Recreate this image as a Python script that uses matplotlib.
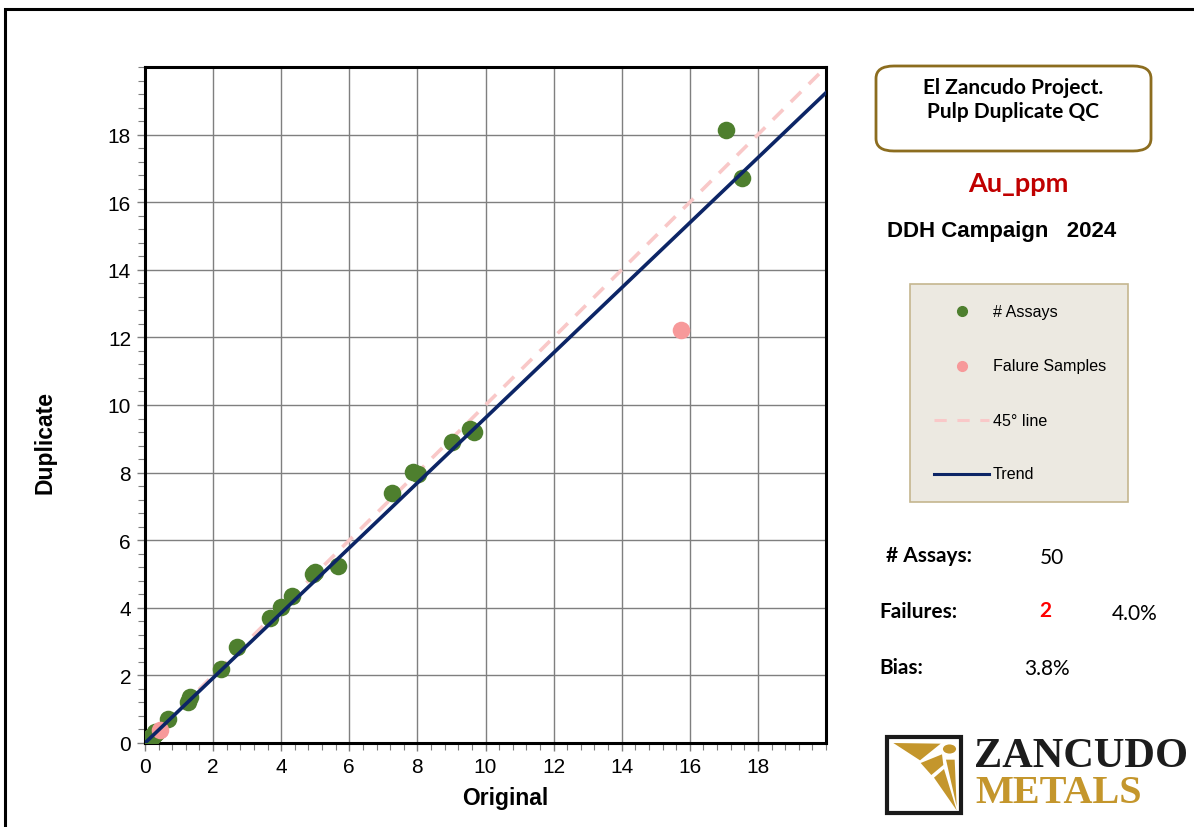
import numpy as np
import matplotlib
matplotlib.use("Agg")
import matplotlib.pyplot as plt
from matplotlib.patches import FancyBboxPatch, Rectangle, Polygon, Circle
from matplotlib.lines import Line2D

W, H = 1194, 828

# Pulp duplicate pairs, Au ppm
orig_ok = [
    17.06, 17.53, 9.55, 9.65, 9.03, 7.88, 8.03, 7.26, 5.68, 5.00,
    4.94, 4.32, 4.00, 3.68, 2.71, 2.24, 1.32, 1.26, 0.68, 0.33,
    0.30, 0.27, 0.24, 0.21, 0.19, 0.17, 0.15, 0.14, 0.12, 0.11,
    0.10, 0.09, 0.08, 0.08, 0.07, 0.06, 0.06, 0.05, 0.05, 0.04,
    0.04, 0.03, 0.03, 0.02, 0.02, 0.02, 0.01, 0.01,
]
dup_ok = [
    18.15, 16.73, 9.30, 9.20, 8.90, 8.01, 7.95, 7.39, 5.23, 5.05,
    5.00, 4.35, 4.02, 3.69, 2.84, 2.19, 1.36, 1.21, 0.71, 0.30,
    0.33, 0.25, 0.22, 0.20, 0.18, 0.16, 0.14, 0.15, 0.11, 0.12,
    0.09, 0.10, 0.07, 0.09, 0.06, 0.07, 0.05, 0.05, 0.04, 0.05,
    0.03, 0.03, 0.02, 0.02, 0.03, 0.01, 0.01, 0.02,
]
orig_fail = [15.74, 0.44]
dup_fail = [12.21, 0.38]

trend_slope = 0.962
trend_intercept = 0.0

n_assays = 50
n_fail = 2
fail_pct = "4.0%"
bias_pct = "3.8%"

GREEN = "#4e7f2e"
PINK = "#f7999a"
NAVY = "#0c2566"
DASH = "#f9c8c8"
GOLD = "#c4962c"


def fx(px):
    return px / W


def fy(py):
    return 1 - py / H


fig = plt.figure(figsize=(W / 100, H / 100), dpi=100)
fig.patch.set_facecolor("white")

# outer frame
fig.add_artist(Rectangle((fx(5), fy(840)), fx(1200) - fx(5), fy(10) - fy(840),
                         transform=fig.transFigure, fill=False, ec="black", lw=2.2))

ax = fig.add_axes([fx(145), fy(744), fx(826) - fx(145), fy(68) - fy(744)])
ax.set_xlim(0, 20)
ax.set_ylim(0, 20)
ax.set_xticks(np.arange(0, 20, 2))
ax.set_yticks(np.arange(0, 20, 2))
ax.set_xticks(np.arange(0, 20.01, 0.4), minor=True)
ax.set_yticks(np.arange(0, 20.01, 0.4), minor=True)
ax.grid(True, which="major", color="#7f7f7f", lw=1.0)
ax.set_axisbelow(True)
for s in ax.spines.values():
    s.set_linewidth(2.2)
    s.set_color("black")
ax.tick_params(which="major", length=6, width=1, color="#7f7f7f", labelsize=15, pad=4)
ax.tick_params(which="minor", length=5, width=0.8, color="#7f7f7f")
for lab in ax.get_xticklabels() + ax.get_yticklabels():
    lab.set_family("Liberation Sans")

xs = np.array([0, 20])
ax.plot(xs, xs, color=DASH, lw=2.6, dashes=(4, 3), zorder=2)
ax.plot(xs, trend_slope * xs + trend_intercept, color=NAVY, lw=2.6, zorder=4)
ax.scatter(orig_ok, dup_ok, s=160, color=GREEN, lw=0, zorder=3)
ax.scatter(orig_fail, dup_fail, s=160, color=PINK, lw=0, zorder=3)

ax.set_xlabel("Original", fontsize=16.5, fontweight="bold", family="Liberation Sans")
ax.set_ylabel("Duplicate", fontsize=16.5, fontweight="bold", family="Liberation Sans")
ax.xaxis.set_label_coords(0.529, (744 - 799) / 676, transform=ax.transAxes)
ax.xaxis.label.set_va("center")
ax.yaxis.set_label_coords((45 - 145) / 681, (744 - 443) / 676, transform=ax.transAxes)
ax.yaxis.label.set_va("center")

# title box
fig.add_artist(FancyBboxPatch((fx(876), fy(152)), fx(1151) - fx(876), fy(67) - fy(152),
                              boxstyle="round,pad=0,rounding_size=0.015",
                              transform=fig.transFigure, fc="white", ec="#8c6d1f", lw=2))
fig.text(fx(1013), fy(100), "El Zancudo Project.\nPulp Duplicate QC", ha="center", va="center",
         fontsize=15, fontweight="bold", family="Lato", linespacing=1.3)
fig.text(fx(1018), fy(184), "Au_ppm", ha="center", va="center", color="#c00000",
         fontsize=19.5, fontweight="bold", family="Lato")
fig.text(fx(887), fy(231), "DDH Campaign   2024", ha="left", va="center",
         fontsize=16, fontweight="bold", family="Liberation Sans")

# legend panel
fig.add_artist(Rectangle((fx(910), fy(503)), fx(1128) - fx(910), fy(285) - fy(503),
                         transform=fig.transFigure, fc="#ece9e1", ec="#c5b68f", lw=1.2))
leg_font = dict(fontsize=11.6, family="Liberation Sans", va="center", ha="left")
fig.add_artist(Line2D([fx(962)], [fy(312)], marker="o", ms=7, color=GREEN, lw=0,
                      transform=fig.transFigure))
fig.text(fx(993), fy(312), "# Assays", **leg_font)
fig.add_artist(Line2D([fx(962)], [fy(367)], marker="o", ms=7, color=PINK, lw=0,
                      transform=fig.transFigure))
fig.text(fx(993), fy(367), "Falure Samples", **leg_font)
fig.add_artist(Line2D([fx(934), fx(989)], [fy(421), fy(421)], color=DASH, lw=2.2,
                      dashes=(4, 3.5), transform=fig.transFigure))
fig.text(fx(993), fy(421), "45° line", **leg_font)
fig.add_artist(Line2D([fx(934), fx(989)], [fy(475), fy(475)], color=NAVY, lw=2.2,
                      transform=fig.transFigure))
fig.text(fx(993), fy(475), "Trend", **leg_font)

# summary statistics
bold = dict(fontsize=15, fontweight="bold", family="Lato", va="center", ha="left")
reg = dict(fontsize=15, family="Lato", va="center", ha="left")
fig.text(fx(886), fy(556), "# Assays:", **bold)
fig.text(fx(1040), fy(558), str(n_assays), **reg)
fig.text(fx(879), fy(612), "Failures:", **bold)
fig.text(fx(1039), fy(611), str(n_fail), color="red", **bold)
fig.text(fx(1112), fy(614), fail_pct, **reg)
fig.text(fx(879), fy(668), "Bias:", **bold)
fig.text(fx(1024), fy(669), bias_pct, **reg)

# company logo
fig.add_artist(Rectangle((fx(887), fy(814)), fx(961) - fx(887), fy(738) - fy(814),
                         transform=fig.transFigure, fill=False, ec="#1a1a1a", lw=3))


def zp(pts):
    return [(fx(860 + a / 3), fy(720 + b / 3)) for a, b in pts]


for pts in (
    [(100, 72), (242, 74), (180, 124)],
    [(182, 132), (246, 106), (250, 138), (214, 168)],
    [(222, 176), (252, 150), (290, 274)],
    [(258, 122), (284, 122), (290, 262)],
):
    fig.add_artist(Polygon(zp(pts), closed=True, transform=fig.transFigure, fc=GOLD, ec="none"))
fig.add_artist(Circle((fx(949.5), fy(750)), 0.0055, transform=fig.transFigure, fc=GOLD, ec="none"))

fig.text(fx(974), fy(757), "ZANCUDO", ha="left", va="center", fontsize=30.5,
         fontweight="bold", family="Liberation Serif", color="#1c1c1c")
fig.text(fx(975), fy(794), "METALS", ha="left", va="center", fontsize=29,
         fontweight="bold", family="Liberation Serif", color=GOLD)

fig.savefig("out.png", dpi=100)
